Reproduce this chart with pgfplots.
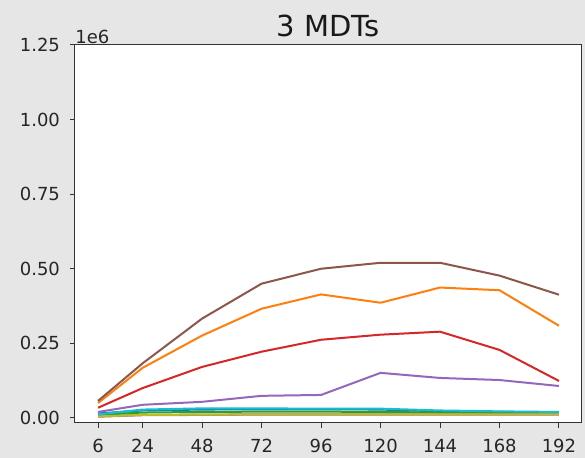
\documentclass[border=0pt]{standalone}
\usepackage{fontspec}
\setmainfont{DejaVu Sans}
\usepackage{pgfplots}
\pgfplotsset{compat=1.18}
\definecolor{tabblue}{HTML}{1F77B4}
\definecolor{taborange}{HTML}{FF7F0E}
\definecolor{tabgreen}{HTML}{2CA02C}
\definecolor{tabred}{HTML}{D62728}
\definecolor{tabpurple}{HTML}{9467BD}
\definecolor{tabbrown}{HTML}{8C564B}
\definecolor{tabpink}{HTML}{E377C2}
\definecolor{tabgray}{HTML}{7F7F7F}
\definecolor{tabolive}{HTML}{BCBD22}
\definecolor{tabcyan}{HTML}{17BECF}
\definecolor{figbg}{HTML}{E6E6E6}
\begin{document}
\begin{tikzpicture}
\fill[figbg] (0,0) rectangle (292.5pt,229pt);
\useasboundingbox (0,0) rectangle (292.5pt,229pt);
\begin{axis}[at={(37.5pt,17.5pt)}, anchor=south west, scale only axis,
  width=253.5pt, height=189pt,
  xmin=-3.3, xmax=201.3, ymin=-0.017, ymax=1.25,
  xtick={6,24,48,72,96,120,144,168,192},
  ytick={0,0.25,0.5,0.75,1,1.25},
  scaled y ticks=false,
  yticklabel style={/pgf/number format/fixed,/pgf/number format/fixed zerofill,/pgf/number format/precision=2, xshift=-1.5pt},
  xticklabel style={yshift=-2pt},
  /pgf/number format/assume math mode=true,
  tick label style={font=\fontsize{9}{10}\selectfont, text=black!85},
  tick align=outside, xtick pos=left, ytick pos=left, major tick length=2.5pt,
  axis background/.style={fill=white},
  axis line style={line width=0.5pt, black!80},
  every tick/.style={black!80, line width=0.5pt},
  no markers,
  every axis plot/.append style={line width=1pt, line join=round},
]
\addplot[tabblue] coordinates {(6,0.015) (24,0.025) (48,0.028) (72,0.029) (96,0.029) (120,0.028) (144,0.022) (168,0.020) (192,0.018)};
\addplot[taborange] coordinates {(6,0.050) (24,0.168) (48,0.276) (72,0.366) (96,0.414) (120,0.386) (144,0.437) (168,0.428) (192,0.309)};
\addplot[tabgreen] coordinates {(6,0.010) (24,0.018) (48,0.020) (72,0.021) (96,0.021) (120,0.020) (144,0.018) (168,0.017) (192,0.016)};
\addplot[tabred] coordinates {(6,0.034) (24,0.100) (48,0.171) (72,0.222) (96,0.262) (120,0.279) (144,0.289) (168,0.228) (192,0.124)};
\addplot[tabpurple] coordinates {(6,0.020) (24,0.044) (48,0.054) (72,0.074) (96,0.077) (120,0.151) (144,0.134) (168,0.127) (192,0.107)};
\addplot[tabbrown] coordinates {(6,0.057) (24,0.183) (48,0.333) (72,0.450) (96,0.500) (120,0.520) (144,0.520) (168,0.477) (192,0.413)};
\addplot[tabpink] coordinates {(6,0.004) (24,0.009) (48,0.010) (72,0.011) (96,0.011) (120,0.011) (144,0.011) (168,0.011) (192,0.011)};
\addplot[tabgray] coordinates {(6,0.005) (24,0.010) (48,0.011) (72,0.012) (96,0.012) (120,0.012) (144,0.012) (168,0.012) (192,0.012)};
\addplot[tabolive] coordinates {(6,0.005) (24,0.010) (48,0.011) (72,0.012) (96,0.012) (120,0.012) (144,0.012) (168,0.012) (192,0.012)};
\addplot[tabcyan] coordinates {(6,0.012) (24,0.028) (48,0.032) (72,0.032) (96,0.031) (120,0.031) (144,0.025) (168,0.022) (192,0.020)};
\end{axis}
\node[anchor=base, font=\fontsize{14.5}{16}\selectfont, text=black!90] at (164pt,210.5pt) {3 MDTs};
\node[anchor=base west, inner sep=0pt, font=\fontsize{9}{10}\selectfont, text=black!85] at (37.5pt,207pt) {1e6};
\end{tikzpicture}
\end{document}
